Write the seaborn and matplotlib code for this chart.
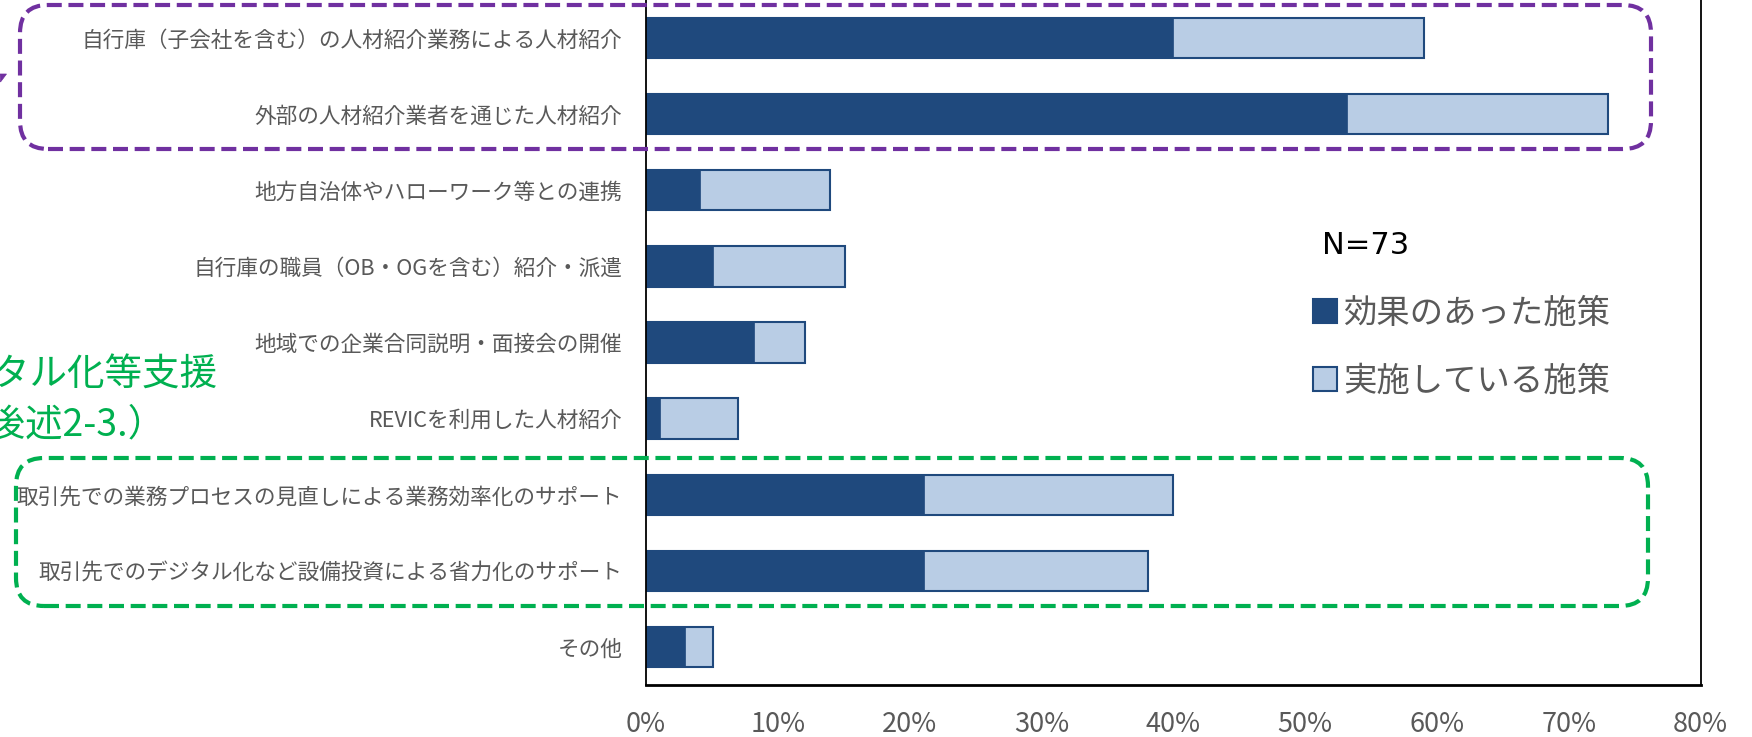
import numpy as np
import pandas as pd
import matplotlib
matplotlib.use("Agg")
import matplotlib.pyplot as plt
import seaborn as sns
from matplotlib.patches import FancyBboxPatch, Patch, Polygon
from matplotlib.ticker import PercentFormatter

sns.set_theme(style="white")
plt.rcParams['font.family'] = ['Noto Sans CJK JP', 'DejaVu Sans']

categories = [
    "自行庫（子会社を含む）の人材紹介業務による人材紹介",
    "外部の人材紹介業者を通じた人材紹介",
    "地方自治体やハローワーク等との連携",
    "自行庫の職員（OB・OGを含む）紹介・派遣",
    "地域での企業合同説明・面接会の開催",
    "REVICを利用した人材紹介",
    "取引先での業務プロセスの見直しによる業務効率化のサポート",
    "取引先でのデジタル化など設備投資による省力化のサポート",
    "その他",
]
effective = [40.0, 53.2, 4.1, 5.1, 8.2, 1.1, 21.1, 21.1, 3.0]
implemented = [59.0, 73.0, 14.0, 15.1, 12.1, 7.0, 40.0, 38.1, 5.1]
legend_labels = ["効果のあった施策", "実施している施策"]
n_label = "N=73"
note_lines = ["デジタル化等支援", "（後述2-3.）"]

dark = "#1F497D"
light = "#B9CDE5"
gray = "#595959"
purple = "#7030A0"
green = "#00B050"

df = pd.DataFrame({"cat": categories, "eff": effective, "imp": implemented})

W, H = 1752, 737
fig = plt.figure(figsize=(W / 100, H / 100), dpi=100)
ax = fig.add_axes([645.8 / W, 1 - 685 / H, (1700.6 - 645.8) / W, 685 / H])

sns.barplot(data=df, x="imp", y="cat", orient="h", color=light,
            edgecolor=dark, linewidth=1.5, width=0.53, ax=ax, saturation=1)
sns.barplot(data=df, x="eff", y="cat", orient="h", color=dark,
            edgecolor=dark, linewidth=0.5, width=0.53, ax=ax, saturation=1)

ax.set_xlim(0, 80)
ax.set_ylim(len(categories) - 0.5, -0.5)
ax.set_xticks(np.arange(0, 81, 10))
ax.xaxis.set_major_formatter(PercentFormatter(decimals=0))
ax.set_xlabel("")
ax.set_ylabel("")
ax.tick_params(axis="x", length=0, pad=19, labelsize=19.5, labelcolor=gray)
ax.tick_params(axis="y", length=0, pad=17, labelsize=15.6, labelcolor=gray)
ax.grid(False)
for side in ["left", "right", "bottom"]:
    ax.spines[side].set_visible(True)
    ax.spines[side].set_color("black")
ax.spines["left"].set_linewidth(1.3)
ax.spines["right"].set_linewidth(1.3)
ax.spines["bottom"].set_linewidth(2.0)
ax.spines["top"].set_visible(False)

# Legend
handles = [Patch(facecolor=dark, edgecolor=dark, linewidth=1.5),
           Patch(facecolor=light, edgecolor=dark, linewidth=1.5)]
leg = fig.legend(handles, legend_labels, loc="upper left",
                 bbox_to_anchor=(1296 / W, 1 - 279 / H), frameon=False,
                 fontsize=24, handlelength=0.72, handleheight=0.72,
                 handletextpad=0.2, labelspacing=0.98, borderpad=0)
for t in leg.get_texts():
    t.set_color(gray)
fig.text(1322 / W, 1 - 246 / H, n_label, fontsize=22, color="black",
         ha="left", va="center", family="DejaVu Sans")

# Annotation boxes (pixel -> inches)
inch = fig.dpi_scale_trans
def dashed_box(x0, y0_top, x1, y1_bot, color):
    p = FancyBboxPatch((x0 / 100, (H - y1_bot) / 100), (x1 - x0) / 100,
                       (y1_bot - y0_top) / 100,
                       boxstyle="round,pad=0,rounding_size=0.28",
                       transform=inch, facecolor="none", edgecolor=color,
                       linewidth=3.0, linestyle=(0, (3.6, 1.6)), zorder=10,
                       clip_on=False)
    fig.add_artist(p)

dashed_box(20, 5, 1651, 149, purple)
dashed_box(16, 458, 1648, 606, green)

# tip of purple arrow entering from the left edge
tip = Polygon([(0, (H - 74) / 100), (6.5 / 100, (H - 74) / 100),
               (0.5 / 100, (H - 82) / 100)], closed=True, transform=inch,
              facecolor=purple, edgecolor=purple, linewidth=0.5)
fig.add_artist(tip)

# Green note (partially cut by the left edge, as in the source)
fig.text(218 / W, 1 - 375 / H, note_lines[0], fontsize=27, color=green,
         ha="right", va="center")
fig.text(166 / W, 1 - 425 / H, note_lines[1], fontsize=27, color=green,
         ha="right", va="center")

fig.savefig("out.png", dpi=100)
